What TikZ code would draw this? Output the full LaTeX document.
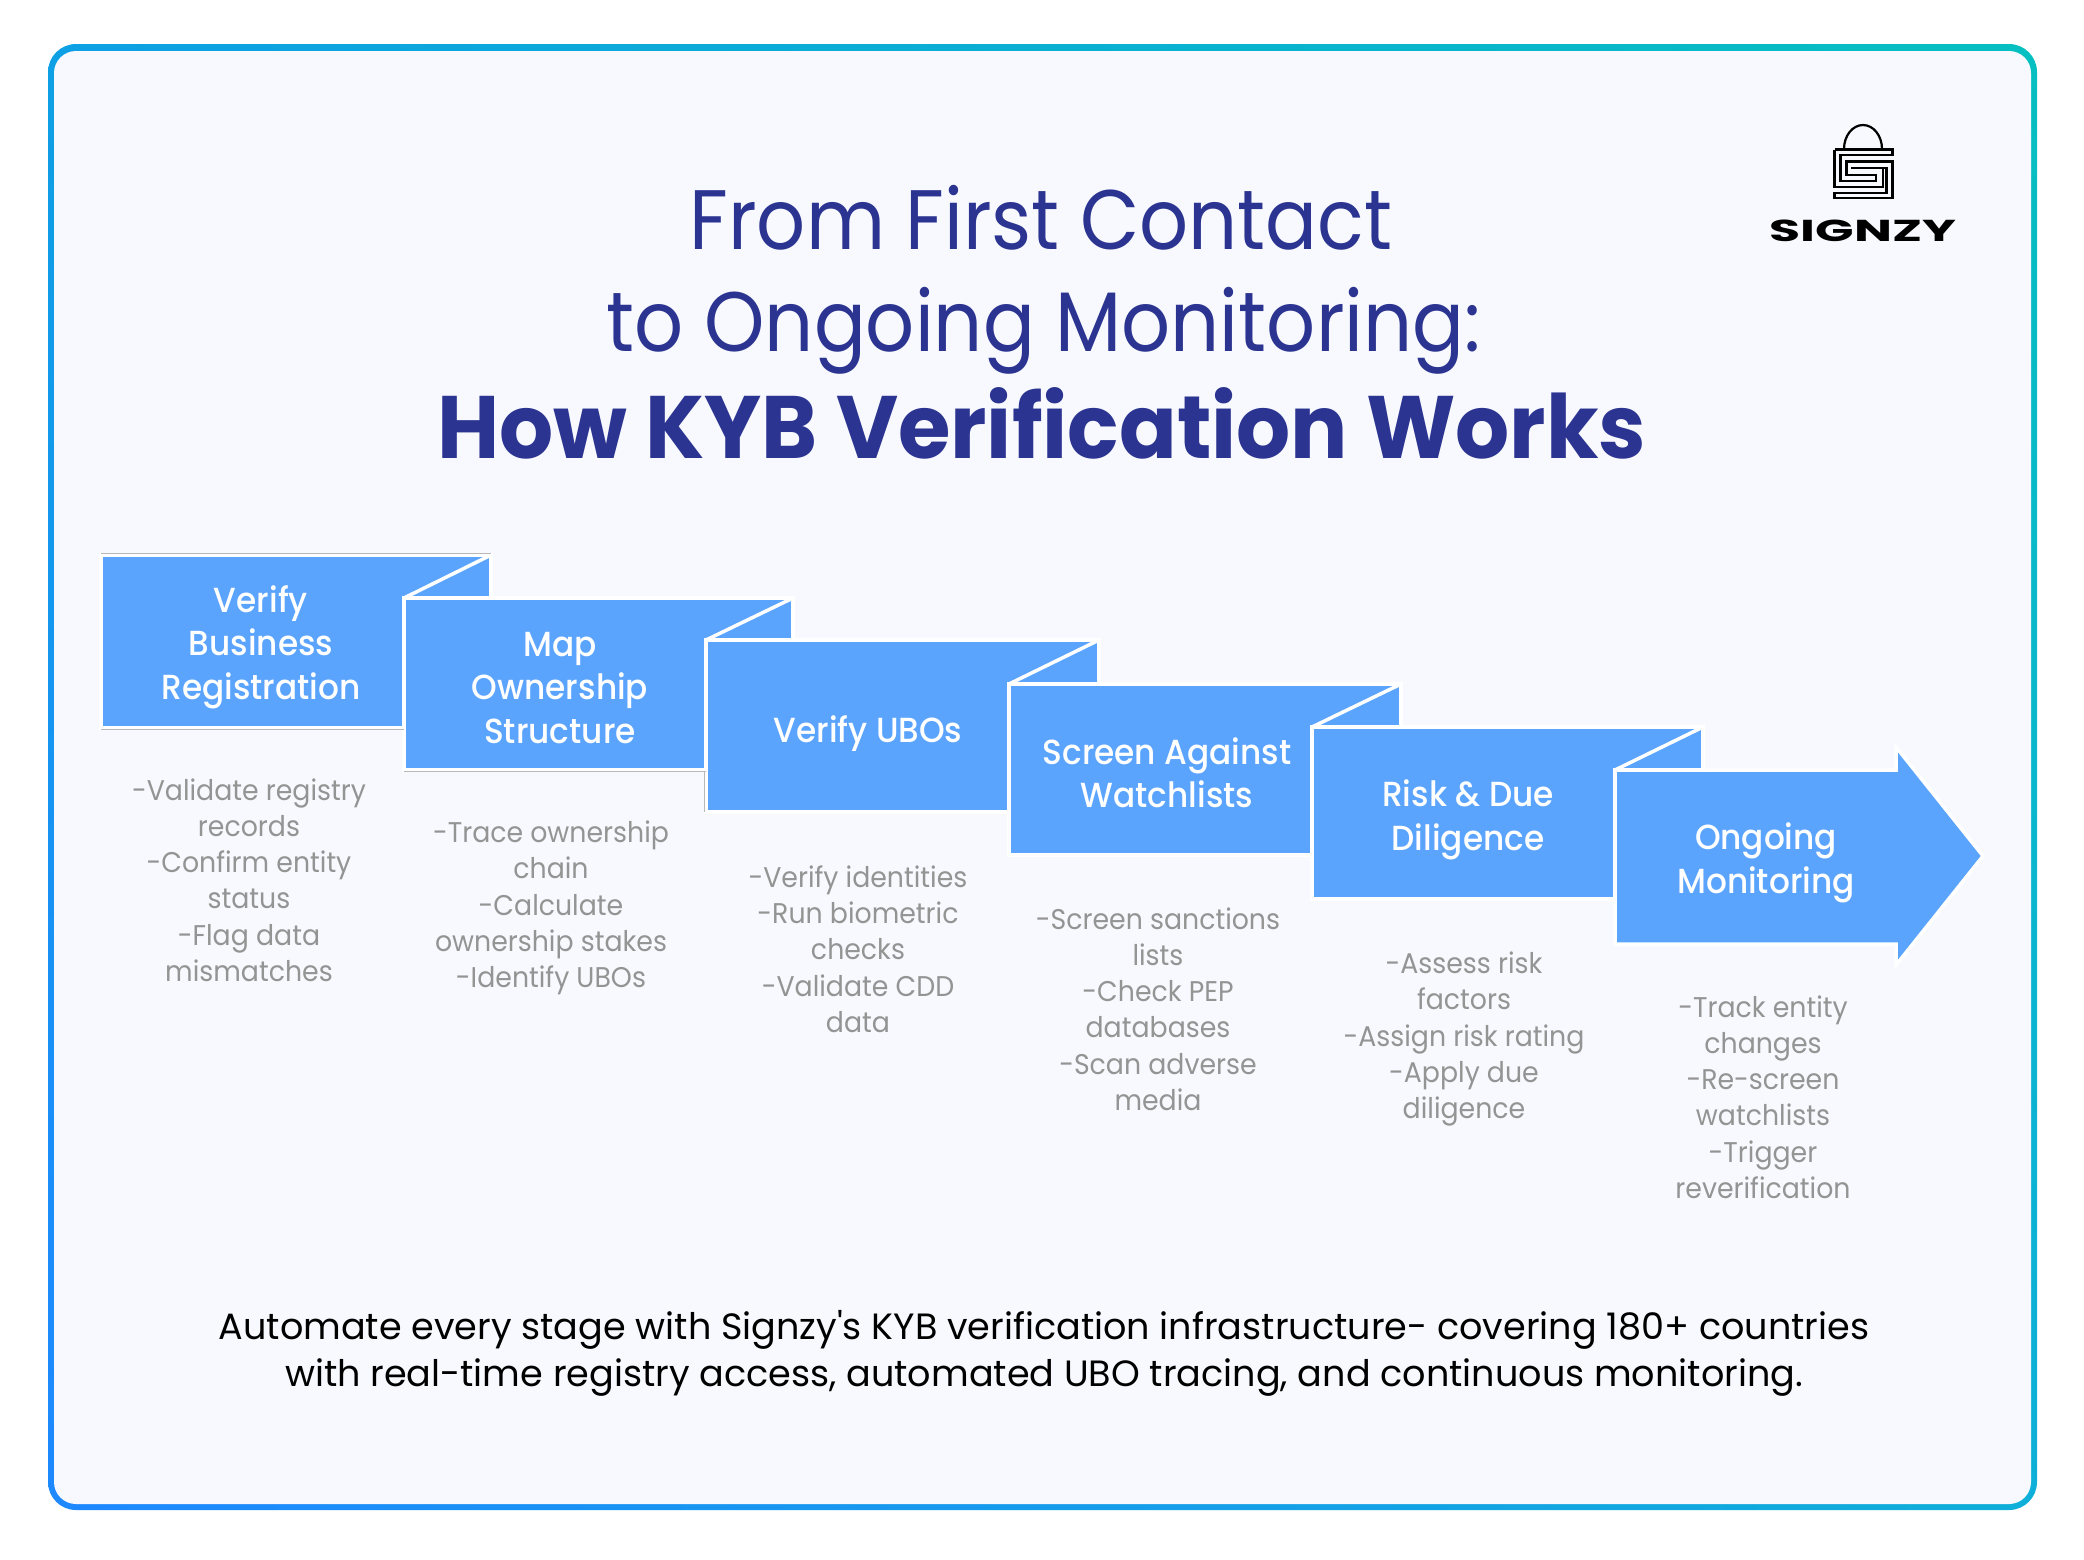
\documentclass[tikz,border=0pt]{standalone}
\usepackage{fontspec}
\usetikzlibrary{shadings}
\setmainfont{Poppins}
\newfontfamily\medfont[FakeStretch=0.94]{Poppins Medium}
\newfontfamily\notefont[FakeStretch=0.94]{Poppins}
\newfontfamily\titlefont[FakeStretch=0.91]{Poppins}
\newfontfamily\titleboldfont[FakeStretch=0.96]{Poppins Bold}
\definecolor{stepblue}{HTML}{5BA4FE}
\definecolor{panelbg}{HTML}{F8F9FE}
\definecolor{notegray}{HTML}{949494}
\definecolor{titleblue}{HTML}{2B3490}
\definecolor{frametl}{HTML}{0EA0E4}
\definecolor{frametr}{HTML}{06BFC0}
\definecolor{framebl}{HTML}{1E88FF}
\definecolor{framebr}{HTML}{0EAFD8}
\tikzset{
  stepbox/.style={fill=stepblue,draw=white,line width=0.035cm,line join=miter},
  flapline/.style={draw=white,line width=0.035cm},
  stepedge/.style={draw=black!28,line width=0.012cm},
  steplabel/.style={text=white,align=center,font=\medfont\fontsize{9.9}{12.35}\selectfont},
  stepnote/.style={text=notegray,align=center,font=\notefont\fontsize{8.1}{10.3}\selectfont},
  logoline/.style={draw=black,line width=0.022cm,line join=miter}
}
\begin{document}
\begin{tikzpicture}[x=0.01cm,y=-0.01cm]
\useasboundingbox (0,0) rectangle (2084,1559);

% frame
\shade[rounded corners=0.28cm,upper left=frametl,upper right=frametr,lower left=framebl,lower right=framebr] (48,44) rectangle (2037,1510);
\fill[panelbg,rounded corners=0.22cm] (54,51) rectangle (2031,1504);

% title
\node[text=titleblue,anchor=base,font=\titlefont\fontsize{24}{30}\selectfont] (title1) at (1041,249) {From First Contact};
\node[text=titleblue,anchor=base,font=\titlefont\fontsize{24}{30}\selectfont] (title2) at (1044,351) {to Ongoing Monitoring:};
\node[text=titleblue,anchor=base,font=\titleboldfont\fontsize{25.2}{30}\selectfont] (title3) at (1042,458) {How KYB Verification Works};

% logo
\draw[logoline] (1844,149) arc[start angle=180,end angle=360,x radius=19,y radius=24];
\draw[logoline] (1834.5,149.5) -- (1892.5,149.5) -- (1892.5,155) -- (1840.5,155) -- (1840.5,181) -- (1876,181) -- (1876,175) -- (1846.5,175) -- (1846.5,161.5) -- (1892.5,161.5) -- (1892.5,198) -- (1834.5,198) -- (1834.5,193) -- (1886.5,193) -- (1886.5,168) -- (1851,168);
\draw[logoline] (1834.5,149.5) -- (1834.5,187) -- (1883,187) -- (1883,168);
\node[font=\bfseries\fontsize{8.6}{10}\selectfont] (logotext) at (1863,231) {\scalebox{1.67}[1]{SIGNZY}};

% steps
\path[stepbox] (101,555) -- (491,555) -- (491,598) -- (404,598) -- (404,728) -- (101,728) -- cycle;
\path[stepbox] (404,598) -- (793,598) -- (793,640) -- (706,640) -- (706,770) -- (404,770) -- cycle;
\path[flapline] (404,598) -- (491,555);
\path[stepbox] (706,640) -- (1099,640) -- (1099,684) -- (1009,684) -- (1009,812) -- (706,812) -- cycle;
\path[flapline] (706,640) -- (793,598);
\path[stepbox] (1009,684) -- (1401,684) -- (1401,727) -- (1312,727) -- (1312,855) -- (1009,855) -- cycle;
\path[flapline] (1009,684) -- (1099,640);
\path[stepbox] (1312,727) -- (1703,727) -- (1703,770) -- (1615,770) -- (1615,899) -- (1312,899) -- cycle;
\path[flapline] (1312,727) -- (1401,684);
\path[stepbox] (1615,770) -- (1896,770) -- (1896,747) -- (1983,856) -- (1896,965) -- (1896,944) -- (1615,944) -- cycle;
\path[flapline] (1615,770) -- (1703,727);

\path[stepedge] (101,553.5) -- (491,553.5);
\path[stepedge] (101,729.5) -- (404,729.5);
\path[stepedge] (404,771.5) -- (706,771.5);
\path[stepedge] (704.5,771.5) -- (704.5,812);

\node[steplabel] (label1) at (261,647) {Verify\\Business\\Registration};
\node[steplabel] (label2) at (560,688) {Map\\Ownership\\Structure};
\node[steplabel] (label3) at (868,734) {Verify UBOs};
\node[steplabel] (label4) at (1167,773) {Screen Against\\Watchlists};
\node[steplabel] (label5) at (1468,820) {Risk \& Due\\Diligence};
\node[steplabel] (label6) at (1766,863) {Ongoing\\Monitoring};

\node[stepnote] (note1) at (249,880) {-Validate registry\\records\\-Confirm entity\\status\\-Flag data\\mismatches};
\node[stepnote] (note2) at (551,908) {-Trace ownership\\chain\\-Calculate\\ownership stakes\\-Identify UBOs};
\node[stepnote] (note3) at (858,949) {-Verify identities\\-Run biometric\\checks\\-Validate CDD\\data};
\node[stepnote] (note4) at (1158,1009) {-Screen sanctions\\lists\\-Check PEP\\databases\\-Scan adverse\\media};
\node[stepnote] (note5) at (1464,1039) {-Assess risk\\factors\\-Assign risk rating\\-Apply due\\diligence};
\node[stepnote] (note6) at (1763,1097) {-Track entity\\changes\\-Re-screen\\watchlists\\-Trigger\\reverification};

% footer
\node[align=center,text=black,font=\fontsize{10.4}{13.4}\selectfont] (footer) at (1044,1353) {Automate every stage with Signzy\textquotesingle s KYB verification infrastructure- covering 180+ countries\\with real-time registry access, automated UBO tracing, and continuous monitoring.};
\end{tikzpicture}
\end{document}
